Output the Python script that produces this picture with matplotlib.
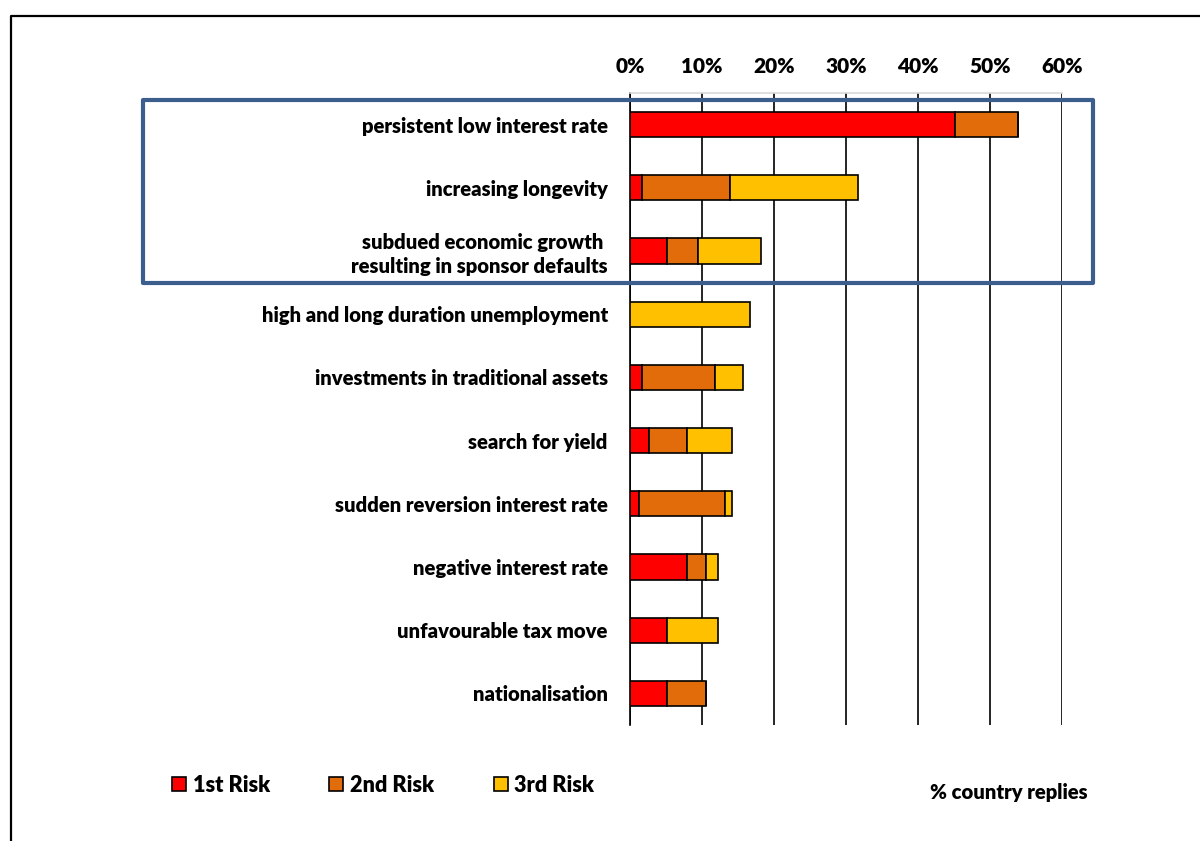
import matplotlib
matplotlib.use("Agg")
import matplotlib.pyplot as plt
from matplotlib.patches import Rectangle
from matplotlib.lines import Line2D
from matplotlib.ticker import FuncFormatter, MultipleLocator
import numpy as np

plt.rcParams['font.family'] = ['Lato', 'DejaVu Sans']
plt.rcParams['font.weight'] = 'bold'

categories = [
    "persistent low interest rate",
    "increasing longevity",
    "subdued economic growth \nresulting in sponsor defaults",
    "high and long duration unemployment",
    "investments in traditional assets",
    "search for yield",
    "sudden reversion interest rate",
    "negative interest rate",
    "unfavourable tax move",
    "nationalisation",
]
risk1 = [0.451, 0.016, 0.052, 0.000, 0.017, 0.026, 0.013, 0.079, 0.052, 0.052]
risk2 = [0.088, 0.123, 0.042, 0.000, 0.101, 0.053, 0.119, 0.026, 0.000, 0.053]
risk3 = [0.000, 0.178, 0.088, 0.166, 0.039, 0.063, 0.010, 0.017, 0.070, 0.000]
series_names = ["1st Risk", "2nd Risk", "3rd Risk"]
colors = ["#FF0000", "#E36C0A", "#FFC000"]

W, H = 1200, 841
fig = plt.figure(figsize=(12, 8.41), dpi=100)
ax = fig.add_axes([630 / W, 1 - 725 / H, (1062 - 630) / W, (725 - 93) / H])

y = np.arange(len(categories))
left = np.zeros(len(categories))
handles = []
for vals, name, c in zip([risk1, risk2, risk3], series_names, colors):
    vals = np.array(vals)
    b = ax.barh(y, vals, left=left, height=0.4, color=c, edgecolor="black",
                linewidth=1.2, label=name, zorder=3)
    handles.append(b)
    left = left + vals

ax.set_xlim(0, 0.6)
ax.set_ylim(len(categories) - 0.5, -0.5)
ax.xaxis.set_major_locator(MultipleLocator(0.1))
ax.xaxis.set_major_formatter(FuncFormatter(lambda v, p: f"{v*100:.0f}%"))
ax.xaxis.tick_top()
ax.tick_params(axis="x", length=0, pad=12, labelsize=15)
ax.set_yticks(y)
ax.set_yticklabels(categories, fontsize=14.6, fontweight="heavy", linespacing=1.3)
ax.tick_params(axis="y", length=0, pad=16)
for lab in ax.get_xticklabels():
    lab.set_fontweight("heavy")
ax.grid(axis="x", color="black", linewidth=1.2, zorder=0)
ax.set_axisbelow(True)
for s in ["right", "bottom"]:
    ax.spines[s].set_visible(False)
ax.spines["top"].set_color("#D9D9D9")
ax.spines["top"].set_linewidth(1.2)
ax.spines["left"].set_color("black")
ax.spines["left"].set_linewidth(1.2)

# highlight box
fig.patches.append(Rectangle((143 / W, 1 - 283 / H), (1093 - 143) / W, (283 - 100) / H,
                             transform=fig.transFigure, fill=False,
                             edgecolor="#3B5E8C", linewidth=3.0, joinstyle="round",
                             zorder=5))
# outer frame
fig.lines.append(Line2D([11 / W, 11 / W, 1.0], [0.0, 1 - 16 / H, 1 - 16 / H],
                        transform=fig.transFigure, color="black", linewidth=1.6))

fig.legend(handles=handles, labels=series_names, loc="center left",
           bbox_to_anchor=(172 / W, 1 - 785 / H), ncol=3, frameon=False,
           prop={"weight": "heavy", "size": 15.6}, handlelength=0.65,
           handleheight=0.65, handletextpad=0.3, columnspacing=2.75,
           borderpad=0, borderaxespad=0)

fig.text(930 / W, 1 - 792 / H, "% country replies", fontsize=14.6,
         fontweight="heavy", ha="left", va="center")

fig.savefig("out.png", dpi=100)
